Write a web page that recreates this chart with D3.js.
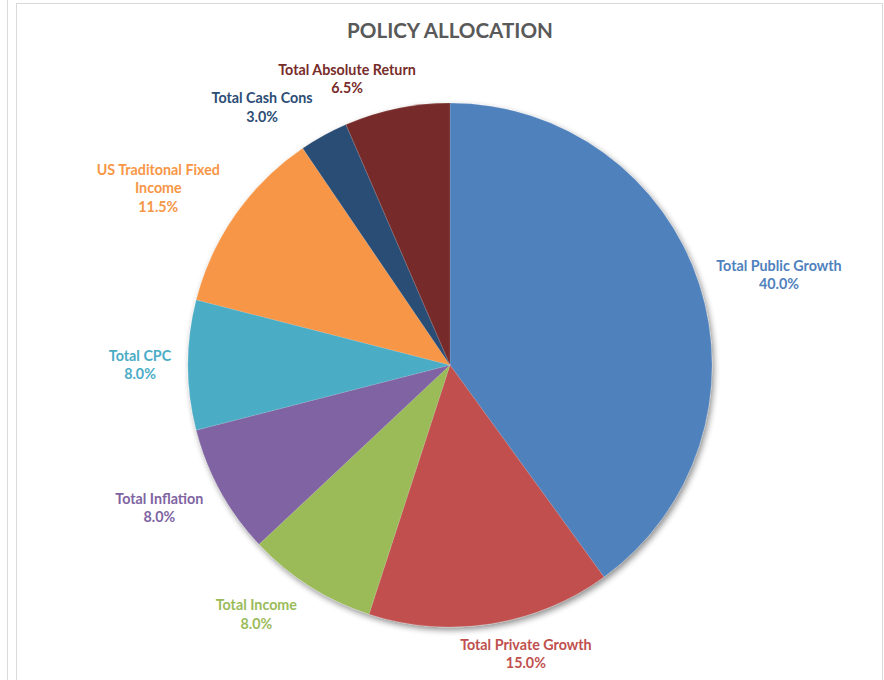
<!DOCTYPE html>
<html><head><meta charset="utf-8">
<script src="https://cdn.jsdelivr.net/npm/d3@7"></script>
<style>html,body{margin:0;padding:0;background:#fff;}svg{display:block;}</style>
</head><body>
<svg id="chart" width="884" height="680"></svg>
<script>
const categories = ["Total Public Growth","Total Private Growth","Total Income","Total Inflation","Total CPC","US Traditonal Fixed Income","Total Cash Cons","Total Absolute Return"];
const labelLines = [["Total Public Growth"],["Total Private Growth"],["Total Income"],["Total Inflation"],["Total CPC"],["US Traditonal Fixed","Income"],["Total Cash Cons"],["Total Absolute Return"]];
const values = [40.0, 15.0, 8.0, 8.0, 8.0, 11.5, 3.0, 6.5];
const colors = ["#4F81BD","#C0504D","#9BBB59","#8064A2","#4BACC6","#F79646","#2C4D75","#772C2A"];
// label layout: angular shift (deg) from slice mid-angle and distance from centre
const labelShift = [2.7,-5.7,5.4,2.6,0,-3.9,-7.3,-8.1];
const labelDist = [341,299,316,324,310,341,319,304];

const svg = d3.select("#chart");
const W = 884, H = 680;
const cx = 450, cy = 365, R = 262;

// frame lines
svg.append("line").attr("x1",7.5).attr("x2",7.5).attr("y1",0).attr("y2",H).attr("stroke","#d9d9d9").attr("stroke-width",1);
svg.append("rect").attr("x",16.5).attr("y",3.5).attr("width",866).attr("height",H+10).attr("fill","#fff").attr("stroke","#d9d9d9").attr("stroke-width",1);

const defs = svg.append("defs");
const f = defs.append("filter").attr("id","sh").attr("x","-20%").attr("y","-20%").attr("width","140%").attr("height","140%");
f.append("feGaussianBlur").attr("in","SourceAlpha").attr("stdDeviation",3);
f.append("feOffset").attr("dx",2).attr("dy",3).attr("result","ob");
f.append("feComponentTransfer").append("feFuncA").attr("type","linear").attr("slope",0.45);
const m = f.append("feMerge"); m.append("feMergeNode"); m.append("feMergeNode").attr("in","SourceGraphic");

svg.append("text").attr("x",cx).attr("y",38).attr("text-anchor","middle")
  .attr("font-family","Lato, 'Open Sans', sans-serif").attr("font-weight","bold").attr("font-size",20.6)
  .attr("fill","#595959").text("POLICY ALLOCATION");

const pie = d3.pie().sort(null).value(d=>d);
const arcs = pie(values);
const arc = d3.arc().innerRadius(0).outerRadius(R);

const g = svg.append("g").attr("transform",`translate(${cx},${cy})`);
g.append("g").attr("filter","url(#sh)").selectAll("path").data(arcs).join("path")
  .attr("d",arc).attr("fill",(d,i)=>colors[i]).attr("stroke","#fff").attr("stroke-opacity",0.25).attr("stroke-width",0.5);

const fmt = d3.format(".1f");
const lh = 18.5;
arcs.forEach((d,i)=>{
  const mid = (d.startAngle+d.endAngle)/2 + labelShift[i]*Math.PI/180;
  const x = Math.sin(mid)*labelDist[i], y = -Math.cos(mid)*labelDist[i];
  const lines = labelLines[i].concat([fmt(values[i])+"%"]);
  const t = g.append("text").attr("text-anchor","middle")
    .attr("font-family","Lato, 'Open Sans', sans-serif").attr("font-weight","bold").attr("font-size",14.3)
    .attr("fill",colors[i]);
  const y0 = y - (lines.length-1)*lh/2;
  lines.forEach((s,k)=>{
    t.append("tspan").attr("x",x).attr("y",y0+k*lh).attr("dy","0.35em").text(s);
  });
});
</script>
</body></html>
